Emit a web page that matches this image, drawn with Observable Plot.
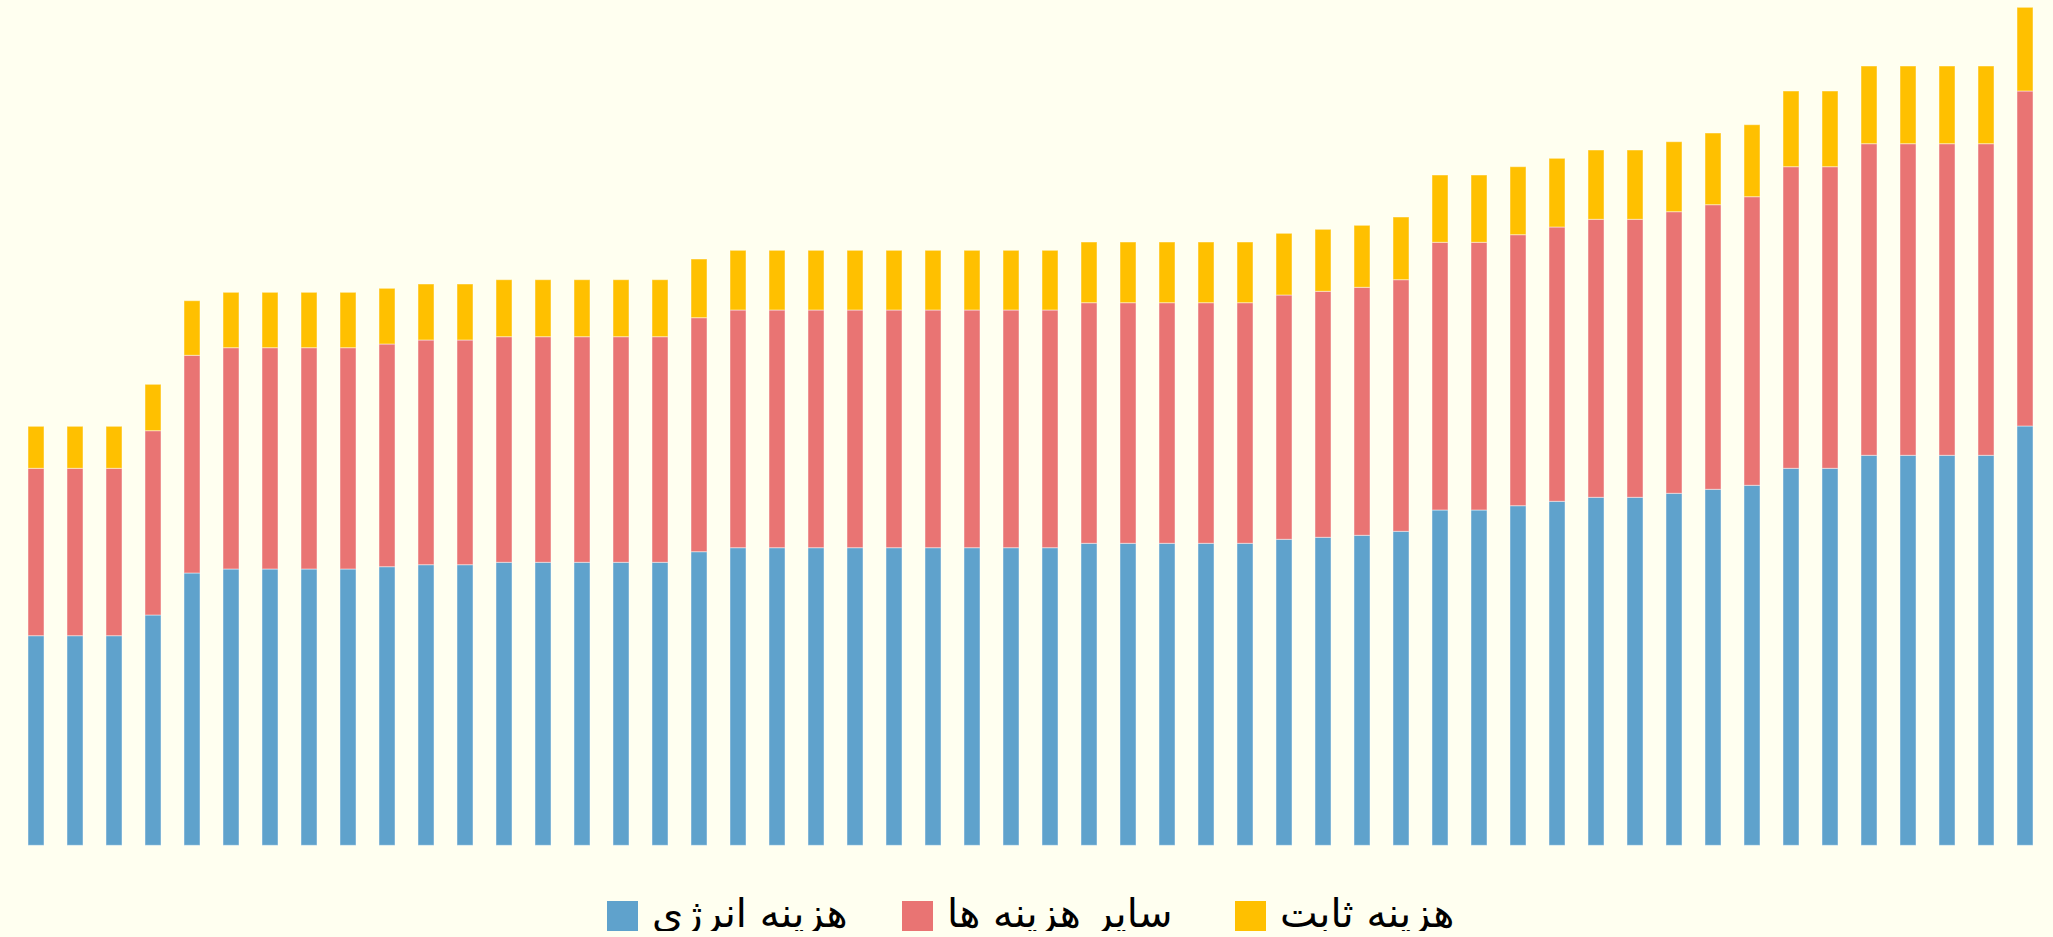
<!DOCTYPE html>
<html>
<head>
<meta charset="utf-8">
<script src="https://cdn.jsdelivr.net/npm/d3@7"></script>
<script src="https://cdn.jsdelivr.net/npm/@observablehq/plot@0.6"></script>
<style>
  html, body { margin: 0; padding: 0; background: #FFFFF0; }
  #chart svg { display: block; }
  #legend {
    position: relative; direction: ltr;
    margin-top: 51px; height: 30px;
    font-family: "DejaVu Sans", sans-serif; font-size: 40px; color: #000;
  }
  .item { position: absolute; top: 0; display: flex; align-items: center; height: 30px; white-space: nowrap; }
  .sw { width: 31px; height: 30px; margin-right: 14px; flex: none; }
  .lbl { direction: rtl; line-height: 30px; position: relative; top: -3px; }
</style>
</head>
<body>
<div id="chart"></div>
<div id="legend"></div>
<script>
// categories (52 unlabeled bars)
const categories = d3.range(1, 53).map(String);

// series names (legend labels)
const seriesNames = ["هزینه انرژی", "سایر هزینه ها", "هزینه ثابت"];
const seriesColors = ["#5FA2CC", "#E97473", "#FFC000"];
const legendLeft = [607, 902, 1235];

// values (arbitrary units)
const energy = [209.6,209.6,209.6,230.3,272.3,276.3,276.3,276.3,276.3,278.6,280.6,280.6,283,283,283,283,283,293.6,
  297.6,297.6,297.6,297.6,297.6,297.6,297.6,297.6,297.6,302,302,302,302,302,306,308,310,314,
  335.3,335.3,339.6,344,348,348,352,356,360,377,377,390,390,390,390,419.3];
const other = [167.4,167.4,167.4,184.3,217.7,221.3,221.3,221.3,221.3,222.7,224.7,224.7,225.6,225.6,225.6,225.6,225.6,234,
  237.7,237.7,237.7,237.7,237.7,237.7,237.7,237.7,237.7,240.6,240.6,240.6,240.6,240.6,244.3,246,248,251.6,
  267.7,267.7,271,274.3,278,278,281.6,284.6,288.6,301.6,301.6,311.6,311.6,311.6,311.6,335];
const fixed = [42,42,42,46.4,54.6,55.4,55.4,55.4,55.4,55.7,56,56,57,57,57,57,57,58.7,
  59.7,59.7,59.7,59.7,59.7,59.7,59.7,59.7,59.7,60.7,60.7,60.7,60.7,60.7,61.7,62,62,62.7,
  67.3,67.3,68,68.7,69.3,69.3,70,71.7,72,75.7,75.7,77.7,77.7,77.7,77.7,83.7];

const seriesValues = [energy, other, fixed];
const rows = [];
categories.forEach((c, i) => {
  seriesNames.forEach((s, j) => rows.push({cat: c, series: s, value: seriesValues[j][i]}));
});

const chart = Plot.plot({
  width: 2053,
  height: 850,
  marginLeft: 14.3,
  marginRight: 7.3,
  marginTop: 0,
  marginBottom: 4.7,
  style: {background: "#FFFFF0"},
  x: {domain: categories, paddingInner: 0.6, paddingOuter: 0, axis: null},
  y: {domain: [0, 845.3], axis: null},
  color: {domain: seriesNames, range: seriesColors},
  marks: [
    Plot.barY(rows, {x: "cat", y: "value", fill: "series", order: seriesNames,
      stroke: "#ffffff", strokeOpacity: 0.45, strokeWidth: 1})
  ]
});
document.getElementById("chart").appendChild(chart);

const legend = document.getElementById("legend");
seriesNames.forEach((s, j) => {
  const it = document.createElement("div");
  it.className = "item";
  it.style.left = legendLeft[j] + "px";
  const sw = document.createElement("div");
  sw.className = "sw";
  sw.style.background = seriesColors[j];
  const lb = document.createElement("span");
  lb.className = "lbl";
  lb.textContent = s;
  it.appendChild(sw); it.appendChild(lb);
  legend.appendChild(it);
});
</script>
</body>
</html>
